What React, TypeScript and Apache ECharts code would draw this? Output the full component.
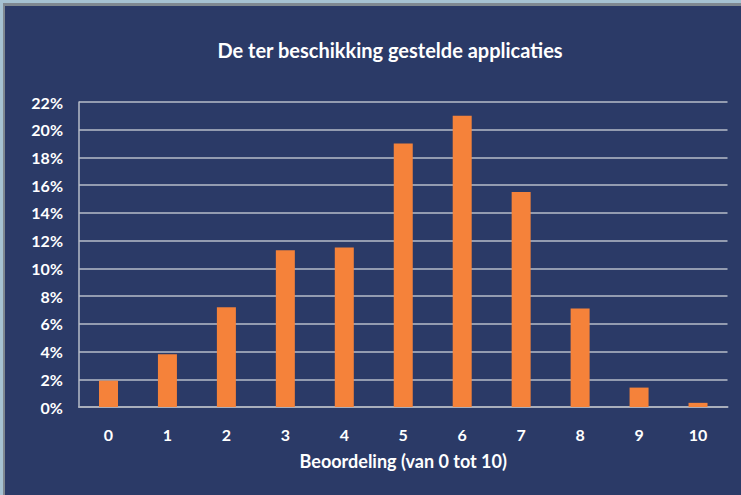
import React, { useEffect, useRef } from "react";
import * as echarts from "echarts";

const categories = ["0", "1", "2", "3", "4", "5", "6", "7", "8", "9", "10"];
const percentages = [1.9, 3.8, 7.2, 11.3, 11.5, 19.0, 21.0, 15.5, 7.1, 1.4, 0.3];
const yTicks = [0, 2, 4, 6, 8, 10, 12, 14, 16, 18, 20, 22];
const title = "De ter beschikking gestelde applicaties";
const xName = "Beoordeling (van 0 tot 10)";

const W = 741;
const H = 495;

export default function App() {
  const ref = useRef<HTMLDivElement>(null);
  useEffect(() => {
    if (!ref.current) return;
    const chart = echarts.init(ref.current, null, { renderer: "svg", width: W, height: H });
    const font = "Lato, 'Open Sans', sans-serif";
    chart.setOption({
      animation: false,
      backgroundColor: "#A6C2D2",
      graphic: [
        { type: "rect", z: -10, shape: { x: 3, y: 3, width: W - 3, height: H - 3 }, style: { fill: "#7F8891" } },
        { type: "rect", z: -9, shape: { x: 5, y: 6, width: W - 5, height: H - 6 }, style: { fill: "#2B3A67" } },
      ],
      title: {
        text: title,
        left: 385,
        textAlign: "center",
        top: 35,
        textStyle: { color: "#FFFFFF", fontSize: 20, fontWeight: "bold", fontFamily: font },
      },
      grid: { left: 79, right: 13.5, top: 102, bottom: 88, containLabel: false },
      xAxis: {
        type: "category",
        data: categories,
        name: xName,
        nameLocation: "middle",
        nameGap: 45,
        nameTextStyle: { color: "#FFFFFF", fontSize: 18, fontWeight: "bold", fontFamily: font },
        axisLine: { show: true, lineStyle: { color: "#A9AEBB", width: 2 } },
        axisTick: { show: false },
        axisLabel: { color: "#FFFFFF", fontSize: 16, fontWeight: "bold", fontFamily: font, margin: 19 },
      },
      yAxis: {
        type: "value",
        min: 0,
        max: yTicks[yTicks.length - 1],
        interval: 2,
        axisLine: { show: true, lineStyle: { color: "#B7BCC9", width: 1.5 } },
        axisTick: { show: false },
        splitLine: { show: true, lineStyle: { color: "#B7BCC9", width: 1.5 } },
        axisLabel: {
          color: "#FFFFFF",
          fontSize: 16,
          fontWeight: "bold",
          fontFamily: font,
          margin: 16,
          formatter: (v: number) => `${v}%`,
        },
      },
      series: [
        {
          type: "bar",
          data: percentages,
          barWidth: 19,
          itemStyle: { color: "#F5823A" },
        },
      ],
    });
    return () => chart.dispose();
  }, []);
  return <div ref={ref} style={{ position: "fixed", left: 0, top: 0, width: W, height: H }} />;
}
